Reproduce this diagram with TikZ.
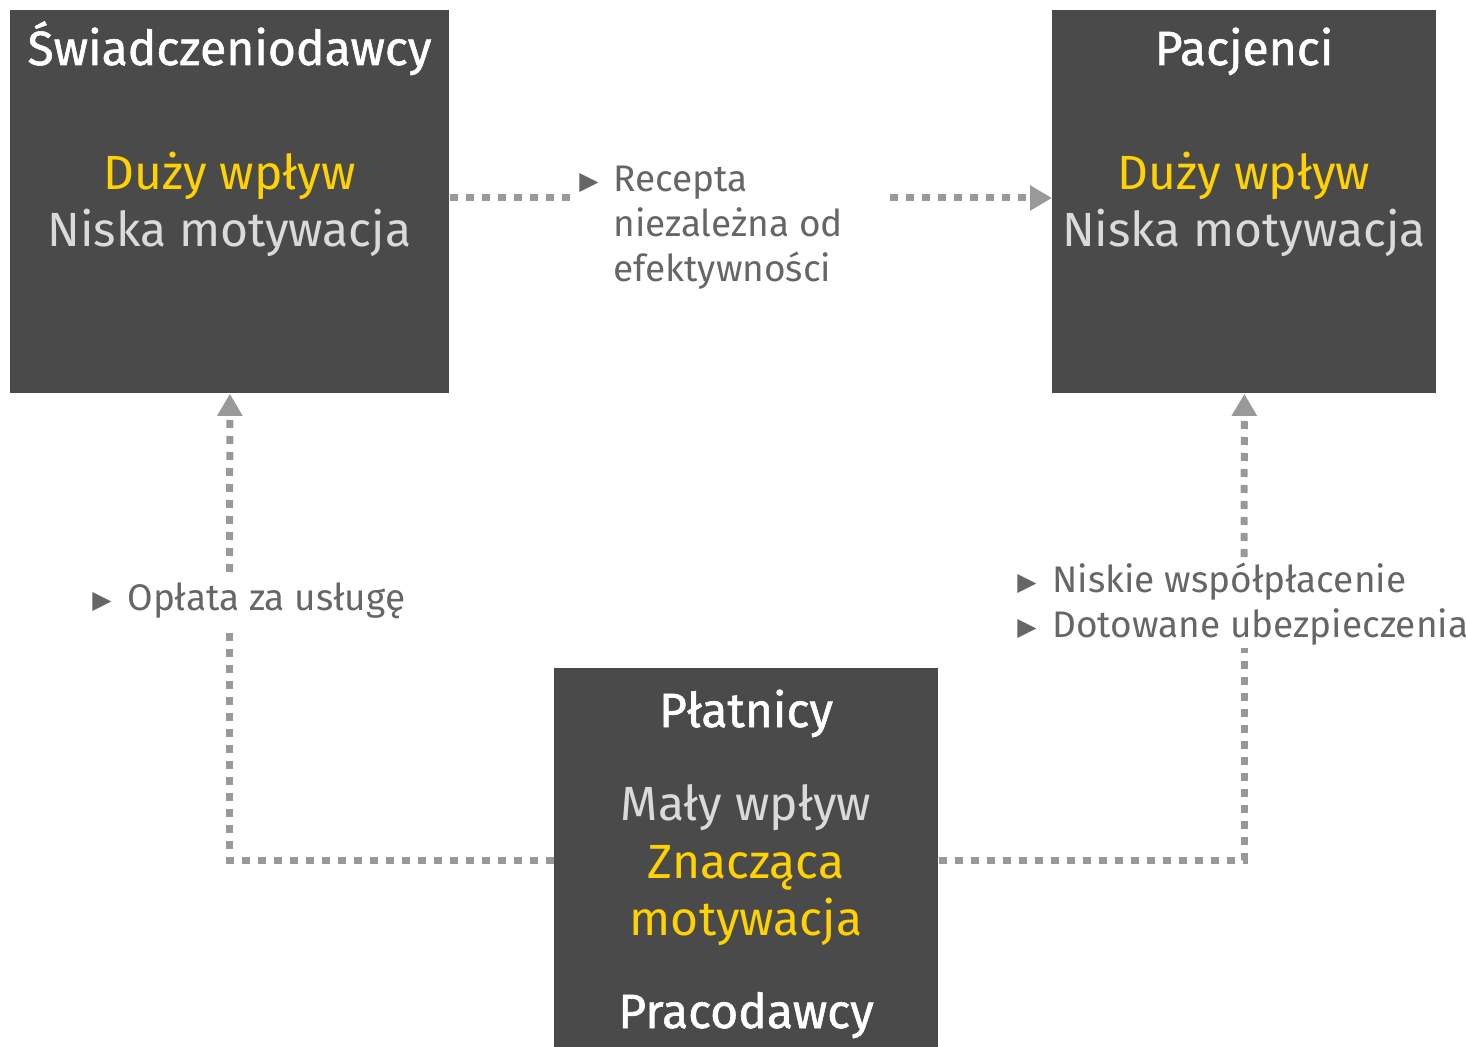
\documentclass[tikz,border=0pt]{standalone}
\usepackage{fontspec}
\setmainfont{Fira Sans}
\newfontfamily\medfont[FakeBold=1.2]{Fira Sans}
\newfontfamily\symfont{DejaVu Sans}
\usetikzlibrary{arrows.meta}
\definecolor{boxgray}{HTML}{4A4A4A}
\definecolor{eyyellow}{HTML}{FFD200}
\definecolor{softgray}{HTML}{DADADA}
\definecolor{lblgray}{HTML}{666666}
\definecolor{conngray}{HTML}{999999}
\tikzset{
  box/.style={fill=boxgray, inner sep=0pt, anchor=north west},
  boxtxt/.style={font=\fontsize{24}{28}\selectfont, anchor=base, inner sep=0pt},
  ttl/.style={boxtxt, text=white, font=\medfont\fontsize{24}{28}\selectfont},
  ylw/.style={boxtxt, text=eyyellow},
  sft/.style={boxtxt, text=softgray},
  lbl/.style={text=lblgray, font=\fontsize{18.5}{22.5}\selectfont, anchor=base west, inner sep=0pt},
  tri/.style={text=lblgray, font=\symfont\fontsize{12.5}{12.5}\selectfont, anchor=base west, inner sep=0pt},
  conn/.style={draw=conngray, line width=3.5pt, dash pattern=on 4pt off 4pt},
  arr/.style={-{Triangle[length=11pt,width=12pt]}},
}
\begin{document}
\begin{tikzpicture}[x=0.5pt, y=-0.5pt]
\useasboundingbox (0,0) rectangle (1466,1047);
% boxes
\node[box, minimum width=219.5pt, minimum height=191.5pt] (L) at (10,10) {};
\node[box, minimum width=192pt, minimum height=191.5pt] (R) at (1052,10) {};
\node[box, minimum width=192pt, minimum height=189.5pt] (P) at (554,668) {};
% box texts
\node[ttl] (Lt) at (229.5,65) {Świadczeniodawcy};
\node[ylw] (Ly) at (229.5,190) {Duży wpływ};
\node[sft] (Ls) at (229.5,247) {Niska motywacja};
\node[ttl] (Rt) at (1244,65) {Pacjenci};
\node[ylw] (Ry) at (1244,190) {Duży wpływ};
\node[sft] (Rs) at (1244,247) {Niska motywacja};
\node[ttl] (Pt) at (746,727) {Płatnicy};
\node[sft] (Ps) at (746,820) {Mały wpływ};
\node[ylw] (Py1) at (746,878) {Znacząca};
\node[ylw] (Py2) at (746,935) {motywacja};
\node[ttl] (Pb) at (746,1028) {Pracodawcy};
% gap coordinates
\coordinate (g1) at (572,198);
\coordinate (g2) at (890,198);
\coordinate (g3) at (229.5,632);
\coordinate (g4) at (229.5,572);
\coordinate (g5) at (1244,648);
\coordinate (g6) at (1244,557);
\coordinate (hb) at (0,860);
% connectors
\draw[conn] (L.east |- g1) -- (g1);
\draw[conn, arr] (g2) -- (R.west |- g2);
\draw[conn] (P.west |- hb) -| (g3);
\draw[conn, arr] (g4) -- (L.south);
\draw[conn] (P.east |- hb) -| (g5);
\draw[conn, arr] (g6) -- (R.south);
% labels
\node[tri] (t1) at (579,190) {▶};
\node[lbl] (l1) at (613,192) {\parbox[t]{200pt}{\raggedright Recepta\\niezależna od\\efektywności}};
\node[tri] (t2) at (92,608) {▶};
\node[lbl] (l2) at (127,610) {Opłata za usługę};
\node[tri] (t3) at (1017,590) {▶};
\node[lbl] (l3) at (1052,592) {Niskie współpłacenie};
\node[tri] (t4) at (1017,635) {▶};
\node[lbl] (l4) at (1052,637) {Dotowane ubezpieczenia};
\end{tikzpicture}
\end{document}
